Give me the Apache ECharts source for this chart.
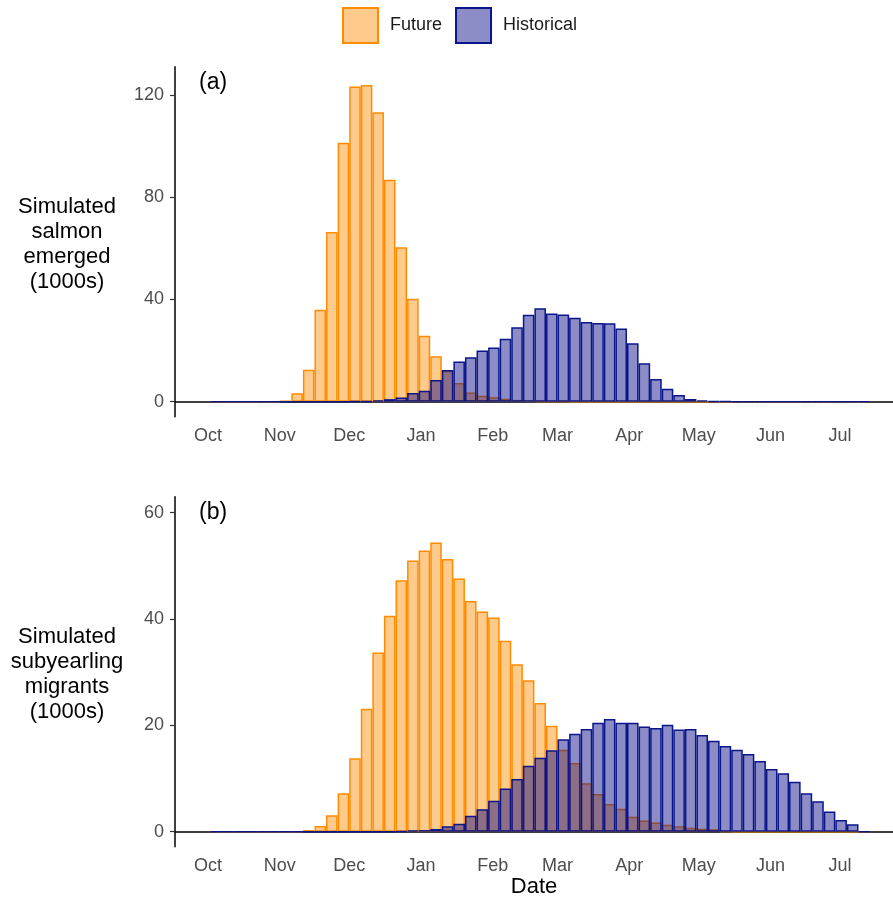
<!DOCTYPE html>
<html>
<head>
<meta charset="utf-8">
<script src="https://cdn.jsdelivr.net/npm/echarts@6/dist/echarts.min.js"></script>
<style>
  html, body { margin: 0; padding: 0; background: #fff; }
  #chart { width: 893px; height: 902px; }
</style>
</head>
<body>
<div id="chart"></div>
<script>
// 5-day bins, x = days since Oct 1 (bin centres)
const binDays = [3.5, 8.5, 13.5, 18.5, 23.5, 28.5, 33.5, 38.5, 43.5, 48.5, 53.5, 58.5, 63.5, 68.5, 73.5,
  78.5, 83.5, 88.5, 93.5, 98.5, 103.5, 108.5, 113.5, 118.5, 123.5, 128.5, 133.5, 138.5, 143.5, 148.5,
  153.5, 158.5, 163.5, 168.5, 173.5, 178.5, 183.5, 188.5, 193.5, 198.5, 203.5, 208.5, 213.5, 218.5,
  223.5, 228.5, 233.5, 238.5, 243.5, 248.5, 253.5, 258.5, 263.5, 268.5, 273.5, 278.5, 283.5];

const monthDays = [0, 31, 61, 92, 123, 151, 182, 212, 243, 273];
const monthLabels = ["Oct", "Nov", "Dec", "Jan", "Feb", "Mar", "Apr", "May", "Jun", "Jul"];

// panel (a): salmon emerged (1000s)
const futureEmerged = [0, 0, 0, 0, 0, 0, 0.3, 3.3, 12.5, 36, 66.4, 101.3, 123.4, 123.9, 113.3, 86.9, 60.4,
  40.3, 25.8, 17.8, 12.0, 7.3, 3.6, 2.35, 1.7, 1.2, 0.7, 0.4, 0.25, 0.15, 0.1,
  0, 0, 0, 0, 0, 0, 0, 0, 0, 0, 0, 0, 0, 0, 0, 0, 0, 0, 0, 0, 0, 0, 0, 0, 0, 0];
const historicalEmerged = [0, 0, 0, 0, 0, 0, 0, 0, 0, 0, 0, 0, 0.1, 0.25, 0.5, 1.0, 1.6, 3.4, 4.3, 8.5,
  12.4, 15.7, 17.4, 20, 21.2, 24.6, 29.1, 34, 36.6, 34.5, 34.1, 32.9, 31.2, 30.8, 30.7, 28.6, 22.9, 15,
  8.9, 5.1, 2.6, 1.05, 0.5, 0.2, 0.1, 0, 0, 0, 0, 0, 0, 0, 0, 0, 0, 0, 0];

// panel (b): subyearling migrants (1000s)
const futureMigrants = [0, 0, 0, 0, 0, 0, 0, 0, 0.3, 1.07, 3.1, 7.2, 13.8, 23.1, 33.7, 40.6, 47.3, 51.0,
  52.9, 54.4, 51.3, 47.6, 43.4, 41.4, 40.3, 35.9, 31.5, 28.5, 24.2, 19.9, 15.4, 12.9, 9.1, 7.1, 5.2, 4.3,
  2.8, 2.1, 1.7, 1.3, 1.0, 0.75, 0.55, 0.45, 0.1, 0, 0, 0, 0, 0, 0, 0, 0, 0, 0, 0, 0];
const historicalMigrants = [0, 0, 0, 0, 0, 0, 0, 0, 0, 0, 0, 0, 0, 0, 0, 0, 0.1, 0.2, 0.3, 0.5, 1.0, 1.5,
  3.0, 4.2, 5.8, 8.1, 9.9, 12.4, 13.9, 15.3, 17.4, 18.4, 19.3, 20.5, 21.2, 20.5, 20.5, 19.8, 19.5, 20.1,
  19.2, 19.3, 18.2, 17.1, 16.1, 15.4, 14.6, 13.3, 11.8, 11.0, 9.4, 7.2, 5.7, 3.8, 2.2, 1.4, 0];

const ticksA = [0, 40, 80, 120];
const ticksB = [0, 20, 40, 60];

const FONT = 'Arial, "Liberation Sans", sans-serif';
const orangeLine = "#FF8C00";
const orangeFill = "rgba(255,140,0,0.45)";
const blueLine = "#0A168A";
const blueFill = "rgba(0,0,128,0.45)";

const chart = echarts.init(document.getElementById("chart"));

function xAxis(gridIndex, extra) {
  return Object.assign({
    type: "value",
    gridIndex: gridIndex,
    min: -14.25,
    max: 295.9,
    axisLine: { onZero: true, lineStyle: { color: "#000", width: 1.5 } },
    axisTick: { show: false },
    splitLine: { show: false },
    axisLabel: {
      customValues: monthDays,
      formatter: (v) => monthLabels[monthDays.indexOf(v)],
      margin: 10,
      fontSize: 18,
      fontFamily: FONT,
      color: "#4D4D4D",
    },
  }, extra || {});
}

function yAxis(gridIndex, min, max, ticks) {
  return {
    type: "value",
    gridIndex: gridIndex,
    min: min,
    max: max,
    axisLine: { show: true, onZero: false, lineStyle: { color: "#000", width: 1.5 } },
    axisTick: { show: true, customValues: ticks, length: 5, lineStyle: { color: "#333", width: 1.2 } },
    splitLine: { show: false },
    axisLabel: {
      customValues: ticks,
      margin: 11,
      fontSize: 18,
      fontFamily: FONT,
      color: "#4D4D4D",
    },
  };
}

function bars(name, values, axisIndex, line, fill) {
  return {
    name: name,
    type: "bar",
    xAxisIndex: axisIndex,
    yAxisIndex: axisIndex,
    data: binDays.map((d, i) => [d, values[i]]),
    barWidth: "100%",
    barGap: "-100%",
    itemStyle: { color: fill, borderColor: line, borderWidth: 1.5 },
    emphasis: { disabled: true },
  };
}

const option = {
  animation: false,
  backgroundColor: "#fff",
  textStyle: { fontFamily: FONT },
  legend: {
    data: ["Future", "Historical"],
    left: 337,
    top: 2,
    icon: "rect",
    itemWidth: 35,
    itemHeight: 35,
    itemGap: 13,
    textStyle: { fontSize: 18, color: "#1a1a1a", fontFamily: FONT, padding: [0, 0, 0, 7] },
  },
  grid: [
    { left: 175, top: 66.7, width: 718, height: 350, outerBoundsMode: "none" },
    { left: 175, top: 496.7, width: 718, height: 350, outerBoundsMode: "none" },
  ],
  xAxis: [
    xAxis(0),
    xAxis(1, {
      name: "Date",
      nameLocation: "middle",
      nameGap: 29,
      nameTextStyle: { fontSize: 22, color: "#000", fontFamily: FONT },
    }),
  ],
  yAxis: [
    yAxis(0, -5.87, 131.1, ticksA),
    yAxis(1, -2.83, 63.0, ticksB),
  ],
  series: [
    bars("Future", futureEmerged, 0, orangeLine, orangeFill),
    bars("Historical", historicalEmerged, 0, blueLine, blueFill),
    bars("Future", futureMigrants, 1, orangeLine, orangeFill),
    bars("Historical", historicalMigrants, 1, blueLine, blueFill),
  ],
  graphic: [
    {
      type: "text", x: 67, y: 244,
      style: { text: "Simulated\nsalmon\nemerged\n(1000s)", font: "22px " + FONT, fill: "#000",
        align: "center", verticalAlign: "middle", lineHeight: 25 },
    },
    {
      type: "text", x: 67, y: 674,
      style: { text: "Simulated\nsubyearling\nmigrants\n(1000s)", font: "22px " + FONT, fill: "#000",
        align: "center", verticalAlign: "middle", lineHeight: 25 },
    },
    {
      type: "text", x: 199, y: 83,
      style: { text: "(a)", font: "23px " + FONT, fill: "#000", align: "left", verticalAlign: "middle" },
    },
    {
      type: "text", x: 199, y: 513,
      style: { text: "(b)", font: "23px " + FONT, fill: "#000", align: "left", verticalAlign: "middle" },
    },
  ],
};

chart.setOption(option);
</script>
</body>
</html>
